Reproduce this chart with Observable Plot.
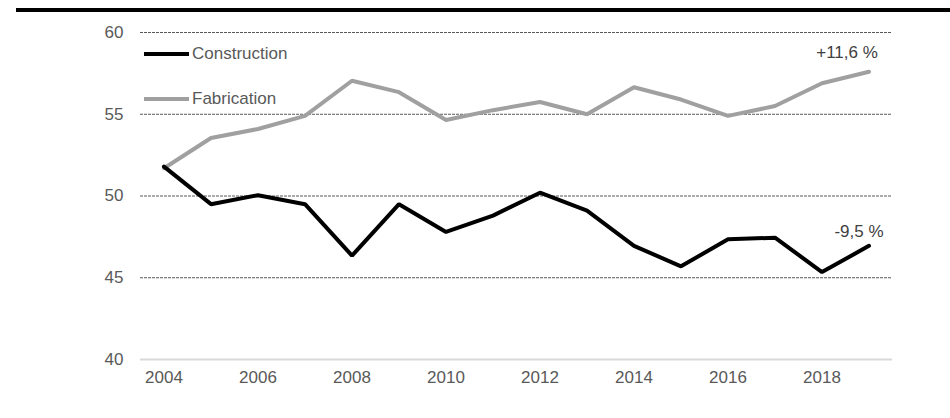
<!DOCTYPE html>
<html>
<head>
<meta charset="utf-8">
<script src="https://cdn.jsdelivr.net/npm/d3@7"></script>
<script src="https://cdn.jsdelivr.net/npm/@observablehq/plot@0.6"></script>
<style>
  html, body { margin: 0; padding: 0; background: #fff; }
  #wrap { position: relative; width: 950px; height: 418px; font-family: "Liberation Sans", Arial, sans-serif; }
  #topbar { position: absolute; left: 16px; top: 7.5px; width: 934px; height: 4px; background: #000; }
  .leg { position: absolute; left: 144px; height: 0; }
  .leg .sw { position: absolute; left: 0; top: -2px; width: 45px; height: 4px; }
  .leg .lb { position: absolute; left: 48px; top: -10px; font-size: 17px; line-height: 20px; color: #595959; white-space: nowrap; }
</style>
</head>
<body>
<div id="wrap">
  <div id="chart"></div>
  <div id="topbar"></div>
  <div id="legend"></div>
</div>
<script>
const years = [2004, 2005, 2006, 2007, 2008, 2009, 2010, 2011, 2012, 2013, 2014, 2015, 2016, 2017, 2018, 2019];
const construction = [51.8, 49.5, 50.05, 49.5, 46.35, 49.5, 47.8, 48.8, 50.2, 49.1, 46.95, 45.7, 47.35, 47.45, 45.35, 46.95];
const fabrication = [51.7, 53.55, 54.1, 54.9, 57.05, 56.35, 54.65, 55.25, 55.75, 55.0, 56.65, 55.9, 54.9, 55.5, 56.9, 57.6];
const seriesNames = ["Construction", "Fabrication"];
const seriesColors = ["#000000", "#a0a0a0"];
const endLabels = ["-9,5 %", "+11,6 %"];
const yTicks = [40, 45, 50, 55, 60];
const gridValues = [45, 50, 55, 60];
const xTicks = [2004, 2006, 2008, 2010, 2012, 2014, 2016, 2018];

const rows = [];
years.forEach((yr, i) => {
  rows.push({year: yr, value: construction[i], series: seriesNames[0]});
  rows.push({year: yr, value: fabrication[i], series: seriesNames[1]});
});
const last = years.length - 1;
const ends = [
  {year: years[last], value: construction[last], label: endLabels[0], series: seriesNames[0]},
  {year: years[last], value: fabrication[last], label: endLabels[1], series: seriesNames[1]}
];

const chart = Plot.plot({
  width: 950,
  height: 418,
  marginTop: 32,
  marginBottom: 59,
  marginLeft: 140,
  marginRight: 58,
  style: {fontFamily: "Liberation Sans, Arial, sans-serif", fontSize: "17px", background: "#fff", color: "#595959"},
  x: {domain: [2003.5, 2019.5], ticks: xTicks, tickFormat: d => String(d), tickSize: 0, tickPadding: 11, label: null},
  y: {domain: [40, 60], ticks: yTicks, tickSize: 0, tickPadding: 17, label: null},
  color: {domain: seriesNames, range: seriesColors},
  marks: [
    Plot.ruleY(gridValues, {stroke: "#595959", strokeWidth: 1, strokeDasharray: "3,1", strokeOpacity: 1}),
    Plot.ruleY([40], {stroke: "#d9d9d9", strokeWidth: 2}),
    Plot.line(rows.filter(d => d.series === seriesNames[1]), {x: "year", y: "value", stroke: "series", strokeWidth: 4, strokeLinejoin: "miter", strokeLinecap: "round"}),
    Plot.line(rows.filter(d => d.series === seriesNames[0]), {x: "year", y: "value", stroke: "series", strokeWidth: 4, strokeLinejoin: "miter", strokeLinecap: "round"}),
    Plot.text(ends.filter(d => d.series === seriesNames[1]), {x: "year", y: "value", text: "label", dx: -22, dy: -19, fill: "#404040", fontSize: 17}),
    Plot.text(ends.filter(d => d.series === seriesNames[0]), {x: "year", y: "value", text: "label", dx: -10, dy: -14, fill: "#404040", fontSize: 17})
  ]
});
document.getElementById("chart").appendChild(chart);

// legend (HTML overlay)
const legendTops = [54, 99];
const legend = document.getElementById("legend");
seriesNames.forEach((name, i) => {
  const item = document.createElement("div");
  item.className = "leg";
  item.style.top = legendTops[i] + "px";
  const sw = document.createElement("div");
  sw.className = "sw";
  sw.style.background = seriesColors[i];
  const lb = document.createElement("div");
  lb.className = "lb";
  lb.textContent = name;
  item.appendChild(sw);
  item.appendChild(lb);
  legend.appendChild(item);
});
</script>
</body>
</html>
